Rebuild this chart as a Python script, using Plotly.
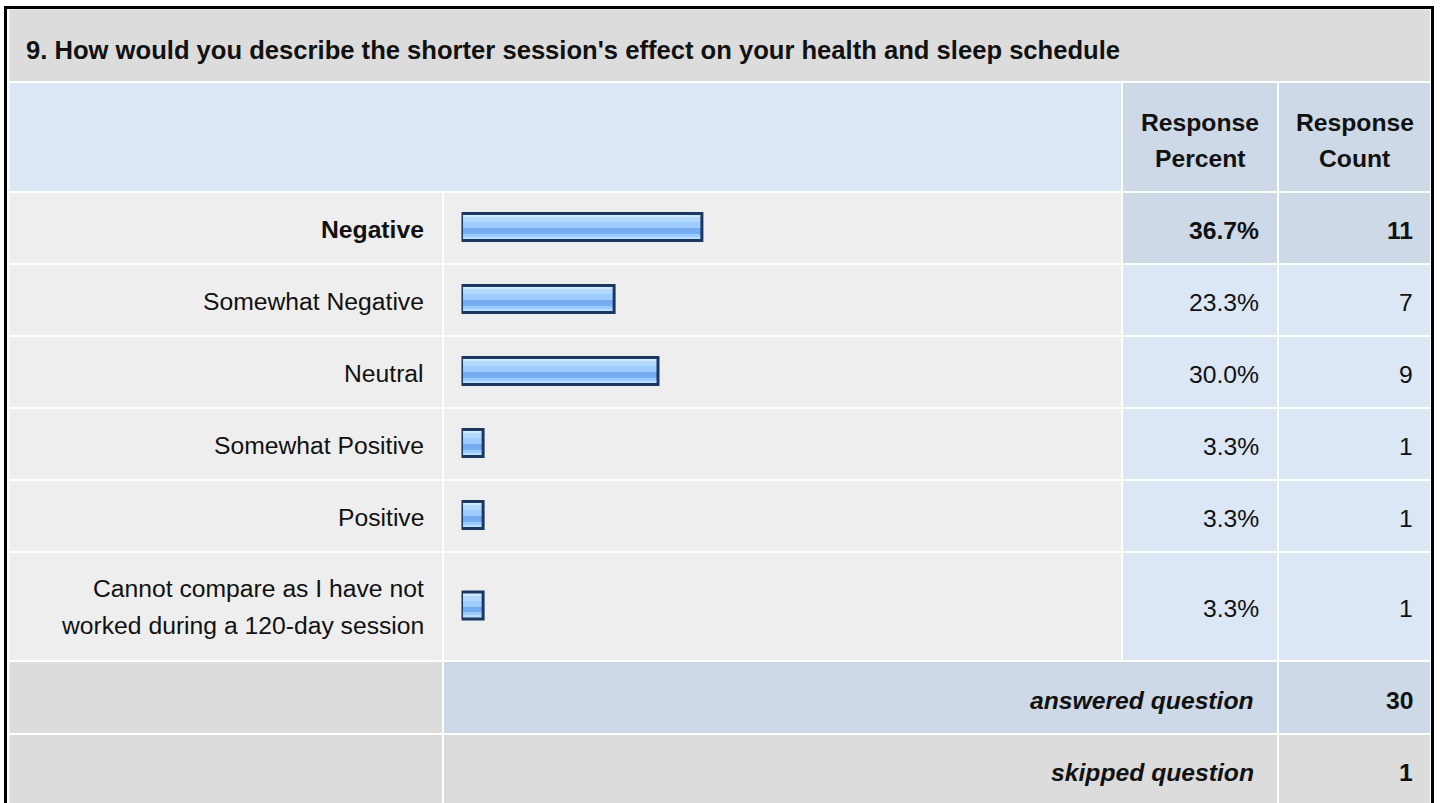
import textwrap
import plotly.graph_objects as go

# ---------------- data ----------------
question = "9. How would you describe the shorter session's effect on your health and sleep schedule"
categories = [
    "Negative",
    "Somewhat Negative",
    "Neutral",
    "Somewhat Positive",
    "Positive",
    "Cannot compare as I have not worked during a 120-day session",
]
percents = [36.7, 23.3, 30.0, 3.3, 3.3, 3.3]
counts = [11, 7, 9, 1, 1, 1]
header_percent = ["Response", "Percent"]
header_count = ["Response", "Count"]
answered_label = "answered question"
answered_count = 30
skipped_label = "skipped question"
skipped_count = 1

# ---------------- layout constants ----------------
W, H = 1440, 803
FONT = "Arial, 'Liberation Sans', Helvetica, sans-serif"
TXT = "#111111"
GREY = "#dcdcdc"
LIGHT = "#eeeeee"
BLUE = "#dce7f5"
BLUE_DK = "#cdd9e6"
BODY = 24.7

X_LAB = (9.5, 442)
X_BAR = (444, 1121)
X_PCT = (1123, 1277)
X_CNT = (1279, 1430)
Y_TITLE = (9.5, 81)
Y_HEAD = (83, 191)
GAP = 2
FIRST_ROW = 193
LINE_PITCH = 36.5
BAR_AXIS_PX = (461.5, 1116.5)

wrapped = [textwrap.wrap(c, 31) for c in categories]
row_h = [70 if len(w) == 1 else 107 for w in wrapped]

row_tops = []
y = FIRST_ROW
for h in row_h:
    row_tops.append(y)
    y += h + GAP
ans_top = y
ans_bot = ans_top + 71
skip_top = ans_bot + GAP
skip_bot = skip_top + 72
row_centers = [t + h / 2 for t, h in zip(row_tops, row_h)]

shapes = []
annotations = []


def cell(x0, x1, y0, y1, color):
    shapes.append(dict(type="rect", xref="x", yref="y", x0=x0, x1=x1, y0=y0, y1=y1,
                       fillcolor=color, line=dict(width=0), layer="below"))


def text(x, y, s, anchor="right", size=BODY, bold=False, italic=False):
    annotations.append(dict(
        x=x, y=y, xref="x", yref="y", text=s, showarrow=False,
        xanchor=anchor, yanchor="middle",
        font=dict(family=FONT, size=size, color=TXT,
                  weight="bold" if bold else "normal",
                  style="italic" if italic else "normal"),
    ))


# title
cell(X_LAB[0], X_CNT[1], Y_TITLE[0], Y_TITLE[1], GREY)
text(24, 49.5, question, anchor="left", size=25.6, bold=True)

# header
cell(X_LAB[0], X_BAR[1], Y_HEAD[0], Y_HEAD[1], BLUE)
cell(X_PCT[0], X_PCT[1], Y_HEAD[0], Y_HEAD[1], BLUE_DK)
cell(X_CNT[0], X_CNT[1], Y_HEAD[0], Y_HEAD[1], BLUE_DK)
hc = (Y_HEAD[0] + Y_HEAD[1]) / 2 + 3.5
for i, (a, b) in enumerate(zip(header_percent, header_count)):
    yy = hc + (i - 0.5) * LINE_PITCH
    text((X_PCT[0] + X_PCT[1]) / 2, yy, a, anchor="center", bold=True)
    text((X_CNT[0] + X_CNT[1]) / 2, yy, b, anchor="center", bold=True)

# answer rows
top_idx = percents.index(max(percents))
for i, (lines, p, c) in enumerate(zip(wrapped, percents, counts)):
    t, h = row_tops[i], row_h[i]
    hi = i == top_idx
    cell(X_LAB[0], X_LAB[1], t, t + h, LIGHT)
    cell(X_BAR[0], X_BAR[1], t, t + h, LIGHT)
    cell(X_PCT[0], X_PCT[1], t, t + h, BLUE_DK if hi else BLUE)
    cell(X_CNT[0], X_CNT[1], t, t + h, BLUE_DK if hi else BLUE)
    cy = row_centers[i] + (1.5 if len(lines) == 1 else 0.3)
    n = len(lines)
    for k, ln in enumerate(lines):
        text(426, cy + (k - (n - 1) / 2) * LINE_PITCH, ln, bold=hi)
    text(1261, row_centers[i] + 2, f"{p:.1f}%", bold=hi)
    text(1415, row_centers[i] + 2, str(c), bold=hi)

# answered / skipped
cell(X_LAB[0], X_LAB[1], ans_top, ans_bot, GREY)
cell(X_BAR[0], X_PCT[1], ans_top, ans_bot, BLUE_DK)
cell(X_CNT[0], X_CNT[1], ans_top, ans_bot, BLUE_DK)
text(1256, (ans_top + ans_bot) / 2 + 3, answered_label, bold=True, italic=True)
text(1415, (ans_top + ans_bot) / 2 + 3, str(answered_count), bold=True)

cell(X_LAB[0], X_LAB[1], skip_top, skip_bot, GREY)
cell(X_BAR[0], X_PCT[1], skip_top, skip_bot, GREY)
cell(X_CNT[0], X_CNT[1], skip_top, skip_bot, GREY)
text(1256, (skip_top + skip_bot) / 2 + 1, skipped_label, bold=True, italic=True)
text(1415, (skip_top + skip_bot) / 2 + 1, str(skipped_count), bold=True)

# outer frame
shapes.append(dict(type="rect", xref="x", yref="y", x0=5.5, x1=1432.5, y0=7.5, y1=skip_bot + 4,
                   fillcolor="rgba(0,0,0,0)", line=dict(color="#000000", width=3), layer="above"))

# ---------------- bars (gradient bands + outline) ----------------
bands = [(-13.5, -10, "#d3e9ff"), (-10, -5, "#b2d8ff"), (-5, 1, "#9dcdff"),
         (1, 7, "#74abf2"), (7, 10, "#9acbff"), (10, 13.5, "#b9ddff")]
bar_centers = [c - 1 for c in row_centers]

fig = go.Figure()
fig.add_trace(go.Scatter(x=[0, W], y=[0, H], mode="none", hoverinfo="skip", showlegend=False))
for y0, y1, col in bands:
    fig.add_trace(go.Bar(
        x=percents, y=[bc + (y0 + y1) / 2 for bc in bar_centers], width=y1 - y0,
        orientation="h", base=0, xaxis="x2", yaxis="y",
        marker=dict(color=col, line=dict(width=0)),
        hoverinfo="skip", showlegend=False,
    ))
fig.add_trace(go.Bar(
    x=percents, y=bar_centers, width=27, orientation="h", base=0, xaxis="x2", yaxis="y",
    marker=dict(color="rgba(0,0,0,0)", line=dict(color="#1d3860", width=3)),
    hoverinfo="skip", showlegend=False,
))

fig.update_layout(
    width=W, height=H,
    margin=dict(l=0, r=0, t=0, b=0),
    paper_bgcolor="#ffffff", plot_bgcolor="rgba(0,0,0,0)",
    barmode="overlay",
    xaxis=dict(range=[0, W], domain=[0, 1], visible=False, fixedrange=True),
    yaxis=dict(range=[H, 0], domain=[0, 1], visible=False, fixedrange=True),
    xaxis2=dict(range=[0, 100], domain=[BAR_AXIS_PX[0] / W, BAR_AXIS_PX[1] / W],
                anchor="y", visible=False, fixedrange=True),
    shapes=shapes,
    annotations=annotations,
    showlegend=False,
)

fig.write_html(
    "out.html",
    config={"displayModeBar": False},
    post_script="document.body.style.margin='0';document.body.style.overflow='hidden';",
)
